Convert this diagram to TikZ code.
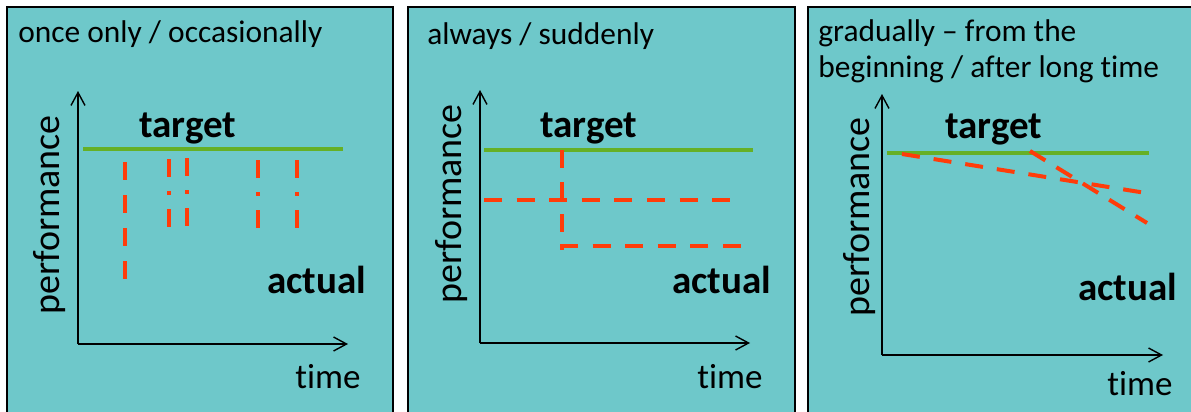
\documentclass[tikz,border=0pt]{standalone}
\usepackage{fontspec}
\setmainfont{Carlito}[Ligatures={NoCommon}]
\usetikzlibrary{arrows.meta, positioning}
\definecolor{panelbg}{RGB}{110,200,202}
\definecolor{targetgreen}{RGB}{102,176,38}
\definecolor{actualred}{RGB}{255,60,10}

\begin{document}
\begin{tikzpicture}[
  x=0.5pt, y=-0.5pt,
  panel/.style={draw=black, line width=0.9pt, fill=panelbg},
  ttl/.style={font=\fontsize{15.7}{18}\selectfont, anchor=base west, inner sep=0pt},
  ylbl/.style={font=\fontsize{19}{22}\selectfont, rotate=90, inner sep=0pt},
  xlbl/.style={font=\fontsize{17.5}{20}\selectfont, anchor=base west, inner sep=0pt},
  lbl/.style={font=\fontsize{19.5}{22}\selectfont\bfseries, anchor=base west, inner sep=0pt},
  axis/.style={-{Straight Barb[length=6.5pt, width=7pt]}, line width=0.7pt},
  tgt/.style={targetgreen, line width=2pt},
  act/.style={actualred, line width=2pt, dash pattern=on 9pt off 7.3pt},
  actdot/.style={actualred, line width=2pt, dash pattern=on 9pt off 7pt on 2pt off 7pt},
]
\path[use as bounding box, clip] (0,0) rectangle (1191,412);
\fill[white] (0,0) rectangle (1191,412);

% Panels
\draw[panel] (7,7) rectangle (393,430);
\draw[panel] (408,7) rectangle (795,430);
\draw[panel] (808,7) rectangle (1200,430);

% Panel 1: once only
\node[ttl] (ttl1) at (18,42) {once only / occasionally};
\coordinate (o1) at (78,344);
\coordinate (y1) at (78,91);
\coordinate (x1) at (348,344);
\draw[axis] (o1) -- (y1);
\draw[axis] (o1) -- (x1);
\node[ylbl] (perf1) at (50,215) {performance};
\node[xlbl] (time1) at (295,388) {time};
\node[lbl] (tgt1) at (139,137) {target};
\node[lbl] (act1) at (267,293) {actual};
\coordinate (g1a) at (83,149);
\coordinate (g1b) at (343,149);
\draw[tgt] (g1a) -- (g1b);
\coordinate (r1a) at (125,162);
\coordinate (r1b) at (125,279);
\draw[act, dash pattern=on 9pt off 7.5pt] (r1a) -- (r1b);
\coordinate (r2a) at (169,159);
\coordinate (r2b) at (169,229);
\draw[actdot] (r2a) -- (r2b);
\coordinate (r3a) at (187,158);
\coordinate (r3b) at (187,228);
\draw[actdot] (r3a) -- (r3b);
\coordinate (r4a) at (258,160);
\coordinate (r4b) at (258,230);
\draw[actdot] (r4a) -- (r4b);
\coordinate (r5a) at (297,160);
\coordinate (r5b) at (297,230);
\draw[actdot] (r5a) -- (r5b);

% Panel 2: always
\node[ttl] (ttl2) at (427,44) {always / suddenly};
\coordinate (o2) at (480,343);
\coordinate (y2) at (480,90);
\coordinate (x2) at (750,343);
\draw[axis] (o2) -- (y2);
\draw[axis] (o2) -- (x2);
\node[ylbl] (perf2) at (452,204) {performance};
\node[xlbl] (time2) at (697,388) {time};
\node[lbl] (tgt2) at (540,137) {target};
\node[lbl] (act2) at (672,293) {actual};
\coordinate (g2a) at (484,150);
\coordinate (g2b) at (753,150);
\draw[tgt] (g2a) -- (g2b);
\coordinate (s2a) at (484,200);
\coordinate (s2b) at (732,200);
\draw[act] (s2a) -- (s2b);
\coordinate (s2c) at (562,150);
\coordinate (s2d) at (562,250);
\draw[act, dash pattern=on 9pt off 7pt] (s2c) -- (s2d);
\coordinate (s2e) at (560,246);
\coordinate (s2f) at (741,246);
\draw[act] (s2e) -- (s2f);

% Panel 3: gradually
\node[ttl, align=left, anchor=north west] (ttl3) at (818,19) {gradually -- from the\\beginning / after long time};
\coordinate (o3) at (882,355);
\coordinate (y3) at (882,94);
\coordinate (x3) at (1163,355);
\draw[axis] (o3) -- (y3);
\draw[axis] (o3) -- (x3);
\node[ylbl] (perf3) at (860,217) {performance};
\node[xlbl] (time3) at (1107,395) {time};
\node[lbl] (tgt3) at (945,138) {target};
\node[lbl] (act3) at (1078,300) {actual};
\coordinate (g3a) at (887,153);
\coordinate (g3b) at (1149,153);
\draw[tgt] (g3a) -- (g3b);
\coordinate (d3a) at (902,154);
\coordinate (d3b) at (1146,193);
\draw[act, dash pattern=on 9pt off 7pt] (d3a) -- (d3b);
\coordinate (d3c) at (1030,151);
\coordinate (d3d) at (1147,223);
\draw[act, dash pattern=on 9pt off 6.5pt] (d3c) -- (d3d);

\end{tikzpicture}
\end{document}
